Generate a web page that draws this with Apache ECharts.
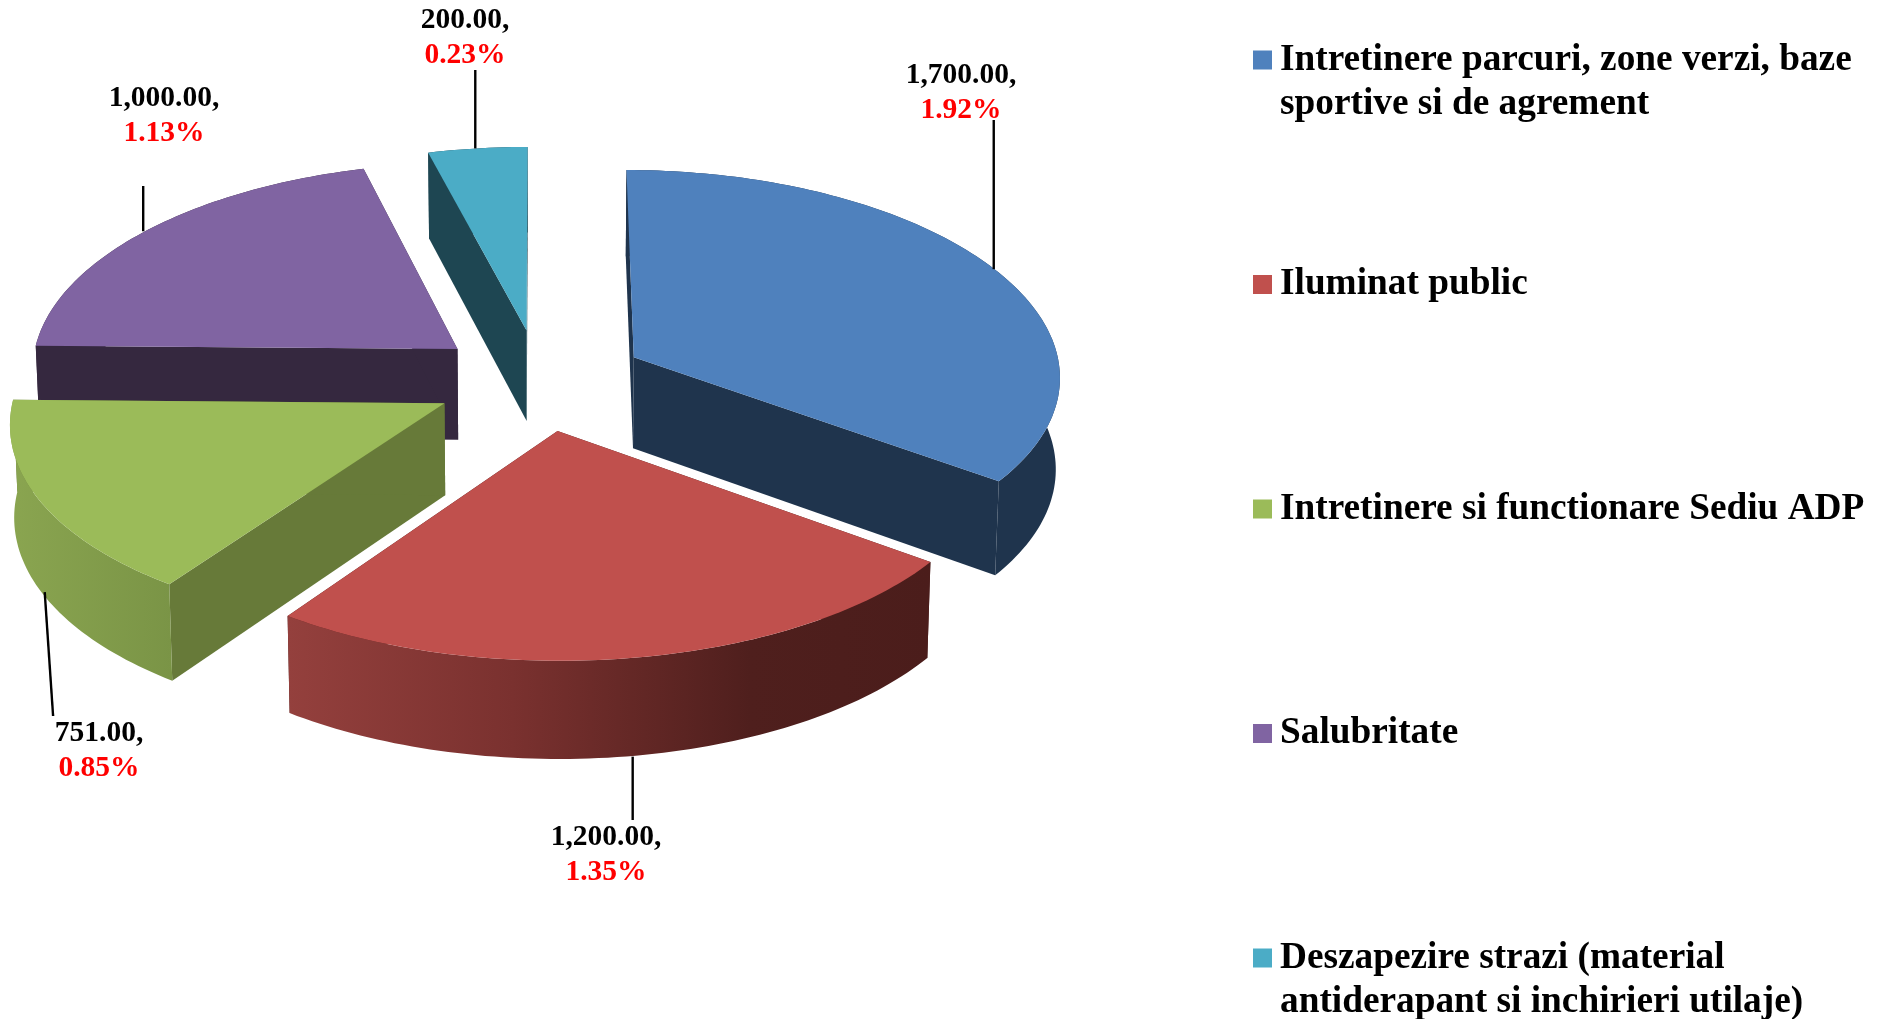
<!DOCTYPE html>
<html>
<head>
<meta charset="utf-8">
<title>Exploded 3D pie</title>
<style>html,body{margin:0;padding:0;background:#fff}#c{width:1877px;height:1019px}</style>
<script src="https://cdn.jsdelivr.net/npm/echarts@6/dist/echarts.min.js"></script>
</head>
<body>
<div id="c"></div>
<script>
const categories = [
  'Intretinere parcuri, zone verzi, baze sportive si de agrement',
  'Iluminat public',
  'Intretinere si functionare Sediu ADP',
  'Salubritate',
  'Deszapezire strazi (material antiderapant si inchirieri utilaje)'
];
const legendLines = [
  ['Intretinere parcuri, zone verzi, baze', 'sportive si de agrement'],
  ['Iluminat public', ' '],
  ['Intretinere si functionare Sediu ADP', ' '],
  ['Salubritate', ' '],
  ['Deszapezire strazi (material', 'antiderapant si inchirieri utilaje)']
];
const values = [1700, 1200, 751, 1000, 200];
const valueLabels = ['1,700.00,', '1,200.00,', '751.00,', '1,000.00,', '200.00,'];
const percentLabels = ['1.92%', '1.35%', '0.85%', '1.13%', '0.23%'];

/* styling and layout, separate from the data */
const topColors = ['#4f81bd', '#c0504d', '#9bbb59', '#8064a2', '#4bacc6'];
const wallColors = ['#1f344d', '#4b1d1b', '#677a39', '#35283f', '#1e4652'];
const rimStops = [
  [[0, '#1f344d'], [1, '#1f344d']],
  [[0, '#94403d'], [0.35, '#7a312f'], [0.72, '#4f1f1d'], [1, '#4b1d1b']],
  [[0, '#8aa550'], [1, '#7a9446']],
  [[0, '#35283f'], [1, '#35283f']],
  [[0, '#1e4652'], [1, '#1e4652']]
];
const paintRank = [3, 5, 4, 2, 1];
const leaderFromBottom = [0, 1, 1, 0, 0];
const leaderNudge = [[-0.7, 0], [-3.1, 1], [1, -3], [-2, 0], [-2.3, 0]];
const leaderLean = [0, 0, 8.4, 0, 0];
const leaderEndY = [120, 820, 716, 186, 70];
const labelCenters = [[961, 75.5], [606, 837.5], [99, 733.5], [164, 98.5], [465, 20.5]];
const percentDrop = 34.5;
const view = {cx: 540, cy: 380, rx: 428, ry: 204.5, depth: 91.5, explode: 0.248,
  perspX: 0.085, perspY: 0.075, perspDepth: 0.055, bottomShrink: 0.008};
const labelFont = 'bold 29.5px "Liberation Serif"';

const total = values.reduce((a, b) => a + b, 0);

function project(u, v, h) {
  const sx = (1 - view.bottomShrink * h) / (1 - view.perspX * v);
  const sy = 1 / (1 - view.perspY * v);
  const sd = 1 / (1 - view.perspDepth * v);
  return [view.cx + view.rx * u * sx, view.cy + view.ry * v * sy + h * view.depth * sd];
}
function sliceAngles(i) {
  let before = 0;
  for (let k = 0; k < i; k++) before += values[k];
  return [before / total * 2 * Math.PI, (before + values[i]) / total * 2 * Math.PI];
}
function disc(off, a, r) {
  return [off[0] + r * Math.sin(a), off[1] - r * Math.cos(a)];
}

function renderSlice(i) {
  return function (params, api) {
    const value = api.value(0);
    const [a0, a1] = sliceAngles(i);
    const mid = (a0 + a1) / 2;
    const off = disc([0, 0], mid, view.explode);
    const steps = Math.max(8, Math.round((a1 - a0) / 0.02));
    const arc = [];
    for (let k = 0; k <= steps; k++) arc.push(disc(off, a0 + (a1 - a0) * k / steps, 1));
    const top = arc.map(p => project(p[0], p[1], 0));
    const bottom = arc.map(p => project(p[0], p[1], 1));
    const apexTop = project(off[0], off[1], 0);
    const apexBottom = project(off[0], off[1], 1);

    const children = [];
    const poly = (points, fill) => children.push({
      type: 'polygon', shape: {points}, style: {fill, stroke: null}, silent: true
    });
    // radial walls, then rim, then the top face
    poly([apexTop, top[0], bottom[0], apexBottom], wallColors[i]);
    poly([apexTop, top[steps], bottom[steps], apexBottom], wallColors[i]);
    poly(top.concat(bottom.slice().reverse()),
      new echarts.graphic.LinearGradient(0, 0, 1, 0,
        rimStops[i].map(s => ({offset: s[0], color: s[1]}))));
    poly([apexTop].concat(top), topColors[i]);

    // leader from the rim at the slice's middle angle
    const rimMid = disc(off, mid, 1);
    const anchor = project(rimMid[0], rimMid[1], leaderFromBottom[i]);
    const start = [anchor[0] + leaderNudge[i][0], anchor[1] + leaderNudge[i][1]];
    children.push({
      type: 'line',
      shape: {x1: start[0], y1: start[1], x2: start[0] + leaderLean[i], y2: leaderEndY[i]},
      style: {stroke: '#000', lineWidth: 2.4}, silent: true
    });
    const lc = labelCenters[i];
    children.push({
      type: 'text', silent: true,
      style: {text: valueLabels[i], x: lc[0], y: lc[1], fill: '#000', font: labelFont,
        align: 'center', verticalAlign: 'middle'}
    });
    children.push({
      type: 'text', silent: true,
      style: {text: percentLabels[i], x: lc[0], y: lc[1] + percentDrop, fill: '#ff0000', font: labelFont,
        align: 'center', verticalAlign: 'middle'}
    });
    return {type: 'group', children, info: value};
  };
}

const chart = echarts.init(document.getElementById('c'), null, {renderer: 'canvas'});
chart.setOption({
  backgroundColor: '#ffffff',
  animation: false,
  tooltip: {show: false},
  legend: {
    orient: 'vertical',
    left: 1253,
    top: -6,
    height: 1100,
    padding: 0,
    icon: 'rect',
    itemWidth: 19,
    itemHeight: 19,
    itemGap: 92.5,
    selectedMode: false,
    data: categories,
    formatter: function (name) {
      const l = legendLines[categories.indexOf(name)];
      return '\n' + l[0] + '\n' + l[1];
    },
    textStyle: {
      color: '#000',
      fontFamily: 'Liberation Serif',
      fontWeight: 'bold',
      fontSize: 37.3,
      lineHeight: 44,
      padding: [0, 0, 0, 3]
    }
  },
  series: categories.map((name, i) => ({
    type: 'custom',
    name,
    coordinateSystem: 'none',
    z: paintRank[i],
    silent: true,
    itemStyle: {color: topColors[i]},
    renderItem: renderSlice(i),
    data: [[values[i]]]
  }))
});
</script>
</body>
</html>
